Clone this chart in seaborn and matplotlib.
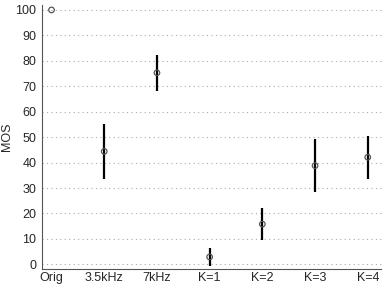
import numpy as np
import pandas as pd
import matplotlib
matplotlib.use("Agg")
import matplotlib.pyplot as plt
import seaborn as sns

categories = ["Orig", "3.5kHz", "7kHz", "K=1", "K=2", "K=3", "K=4"]
mos_mean = [100.0, 44.4, 75.3, 2.9, 15.8, 38.8, 42.1]
mos_err = [np.nan, 10.8, 7.0, 3.6, 6.3, 10.3, 8.5]

sns.set_style("white")
plt.rcParams["font.family"] = ["Liberation Sans", "DejaVu Sans"]

df = pd.DataFrame({"cond": categories, "mos": mos_mean, "err": mos_err})
df["lo"] = df["mos"] - df["err"]
df["hi"] = df["mos"] + df["err"]

fig = plt.figure(figsize=(3.82, 2.86), dpi=100)
ax = fig.add_axes([0.11, 0.058, 0.89, 0.925])

ax.vlines(df["cond"], df["lo"], df["hi"], color="black", linewidth=1.6, zorder=2)
sns.scatterplot(data=df, x="cond", y="mos", ax=ax, marker="o", s=16,
                facecolor="none", edgecolor="#555555", linewidth=0.9, zorder=3)

ax.set_xlim(-0.18, 6.27)
ax.set_ylim(-2, 102)
ax.set_yticks(range(0, 101, 10))
ax.yaxis.grid(True, linestyle=(0, (1, 3)), color="#aaaaaa", linewidth=0.8)
ax.xaxis.grid(False)
ax.set_xlabel("")
ax.set_ylabel("MOS", fontsize=9)
ax.yaxis.set_label_coords(-0.085, 0.5)
ax.tick_params(axis="both", labelsize=9, length=2, width=0.6, color="#444444", pad=2)
ax.tick_params(axis="x", pad=0.5, length=1.5)

for side in ["top", "right"]:
    ax.spines[side].set_visible(False)
for side in ["left", "bottom"]:
    ax.spines[side].set_color("#555555")
    ax.spines[side].set_linewidth(0.8)

fig.savefig("out.png", dpi=100)
